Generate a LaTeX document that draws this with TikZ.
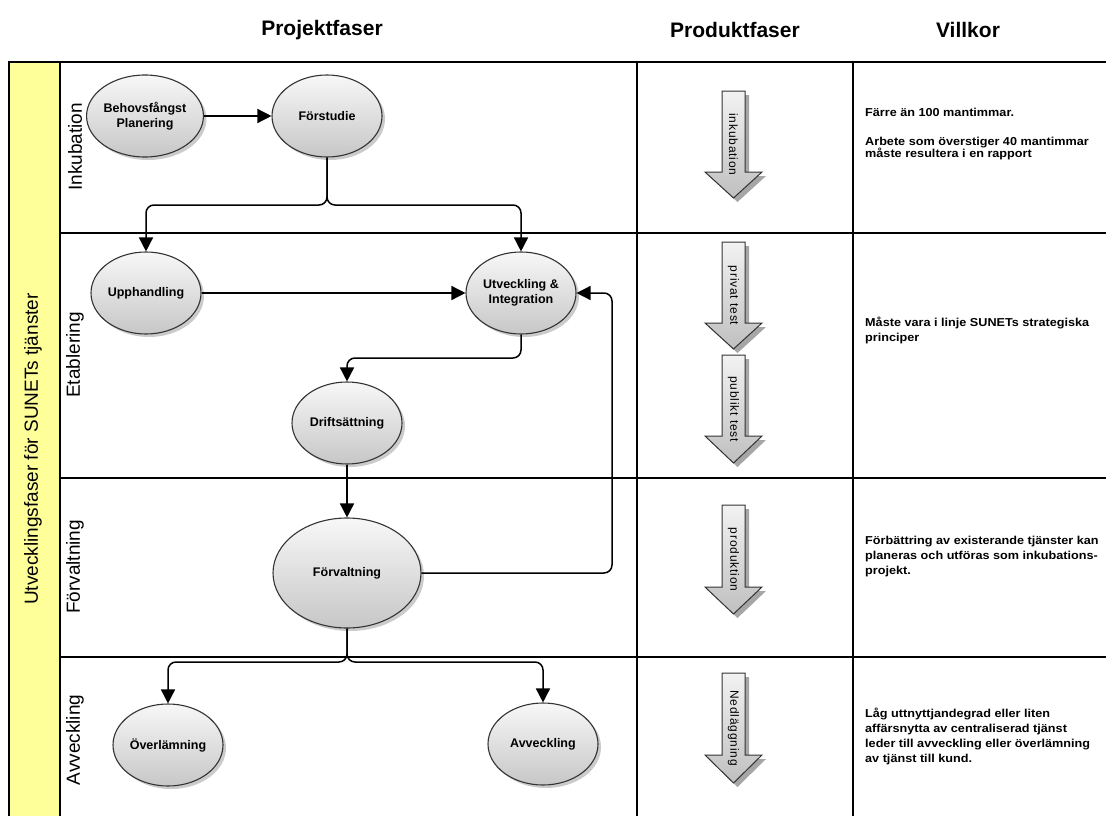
\documentclass[tikz,border=0pt]{standalone}
\usepackage{fontspec}
\setmainfont{Liberation Sans}
\newfontfamily\vfont[FakeStretch=1.1]{Liberation Sans}
\newfontfamily\afont[LetterSpace=7]{Liberation Sans}
\usetikzlibrary{shapes.geometric,arrows.meta,shadows}
\definecolor{lanec}{HTML}{FFFF99}
\tikzset{
  grid/.style={line width=1.8pt, black},
  proc/.style={ellipse, draw=black!80, line width=1.1pt, top color=black!3, bottom color=black!22,
    drop shadow={shadow xshift=3pt, shadow yshift=-3pt, fill=black!40},
    font=\bfseries\fontsize{12.5}{14.5}\selectfont, align=center, inner sep=0pt,
    minimum width=110pt, minimum height=82pt},
  conn/.style={line width=1.5pt, -{Triangle[length=14pt,width=14pt]}, rounded corners=8pt},
  head/.style={font=\bfseries\fontsize{21}{24}\selectfont},
  lanelab/.style={rotate=90, font=\fontsize{19}{22}\selectfont},
  parrowc/.style={draw=black!80, line width=1pt, top color=black!5, bottom color=black!25},
  ptext/.style={rotate=-90, font=\afont\fontsize{12}{13}\selectfont, inner sep=0pt},
  vtext/.style={anchor=base west, inner sep=0pt, font=\vfont\bfseries\fontsize{11.5}{14}\selectfont}
}
\newcommand\prodarrow[5]{%
  \fill[black!35, shift={(4,4)}] (722,#2) -- (745,#2) -- (745,#3) -- (762,#3) -- (733.5,#4) -- (705,#3) -- (722,#3) -- cycle;
  \draw[parrowc] (722,#2) -- (745,#2) -- (745,#3) -- (762,#3) -- (733.5,#4) -- (705,#3) -- (722,#3) -- cycle;
  \node[ptext] (#1) at (733.5,{(#2+#4)/2}) {#5};
}
\begin{document}
\begin{tikzpicture}[x=1pt,y=-1pt]
\useasboundingbox (0,0) rectangle (1106,816);
\fill[white] (0,0) rectangle (1106,816);

% headers
\node[head] (h1) at (322,30) {Projektfaser};
\node[head] (h2) at (735,30) {Produktfaser};
\node[head] (h3) at (968,30) {Villkor};

% table
\fill[lanec] (9,62) rectangle (60,818);
\draw[grid] (9,818) -- (9,62) -- (1108,62);
\draw[grid] (60,62) -- (60,818);
\draw[grid] (637,62) -- (637,818);
\draw[grid] (853,62) -- (853,818);
\draw[grid] (60,233) -- (1108,233);
\draw[grid] (60,478) -- (1108,478);
\draw[grid] (60,657) -- (1108,657);

\node[rotate=90, font=\fontsize{19}{22}\selectfont] (main) at (33,449) {Utvecklingsfaser för SUNETs tjänster};
\node[lanelab] (l1) at (75,147) {Inkubation};
\node[lanelab] (l2) at (75,355) {Etablering};
\node[lanelab] (l3) at (75,567) {Förvaltning};
\node[lanelab] (l4) at (75,740) {Avveckling};

% process nodes
\node[proc] (bp) at (145,116) {Behovsfångst\\Planering};
\node[proc] (fs) at (327,116) {Förstudie};
\node[proc] (up) at (146,293) {Upphandling};
\node[proc] (ut) at (521,293) {Utveckling \&\\Integration};
\node[proc] (dr) at (347,423) {Driftsättning};
\node[proc, minimum width=148pt, minimum height=110pt] (fv) at (347,573) {Förvaltning};
\node[proc] (ov) at (168,745) {Överlämning};
\node[proc] (av) at (543,744) {Avveckling};

% connectors
\coordinate (s1) at (327,205);
\coordinate (s2) at (521,358);
\coordinate (s3) at (347,662);
\coordinate (rx) at (612,0);
\draw[conn] (bp.east) -- (fs.west);
\draw[conn] (fs.south) -- (s1) -| (up.north);
\draw[conn] (fs.south) -- (s1) -| (ut.north);
\draw[conn] (up.east) -- (ut.west);
\draw[conn] (ut.south) -- (s2) -| (dr.north);
\draw[conn] (dr.south) -- (fv.north);
\draw[conn] (fv.east) -| (ut.east -| rx) -- (ut.east);
\draw[conn] (fv.south) -- (s3) -| (ov.north);
\draw[conn] (fv.south) -- (s3) -| (av.north);

% product phases
\prodarrow{pa1}{91}{172}{198}{inkubation}
\prodarrow{pa2}{242}{323}{349}{privat test}
\prodarrow{pa3}{355}{436}{463}{publikt test}
\prodarrow{pa4}{505}{587}{614}{produktion}
\prodarrow{pa5}{673}{755}{783}{Nedläggning}

% conditions
\node[vtext] (v1) at (865,116) {Färre än 100 mantimmar.};
\node[vtext] (v2) at (865,145) {Arbete som överstiger 40 mantimmar};
\node[vtext] (v3) at (865,157) {måste resultera i en rapport};
\node[vtext] (v4) at (865,326) {Måste vara i linje SUNETs strategiska};
\node[vtext] (v5) at (865,341) {principer};
\node[vtext] (v6) at (865,544) {Förbättring av existerande tjänster kan};
\node[vtext] (v7) at (865,559) {planeras och utföras som inkubations-};
\node[vtext] (v8) at (865,574) {projekt.};
\node[vtext] (v9) at (865,717) {Låg uttnyttjandegrad eller liten};
\node[vtext] (v10) at (865,732) {affärsnytta av centraliserad tjänst};
\node[vtext] (v11) at (865,747) {leder till avveckling eller överlämning};
\node[vtext] (v12) at (865,762) {av tjänst till kund.};
\end{tikzpicture}
\end{document}
